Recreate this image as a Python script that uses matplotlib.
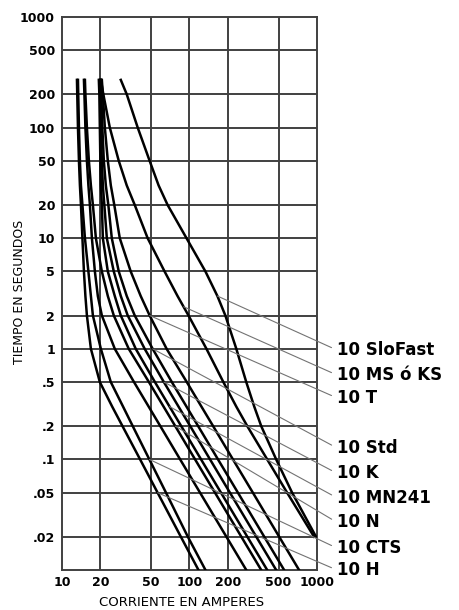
import numpy as np
import matplotlib
matplotlib.use('Agg')
import matplotlib.pyplot as plt

# time-current curves (amperes vs seconds), fastest first
secs = [270, 200, 100, 50, 30, 20, 10, 5, 3, 2, 1, 0.5, 0.3, 0.2, 0.1, 0.05, 0.02, 0.01]
amps_h = [13.10, 13.17, 13.34, 13.58, 13.82, 14.08, 14.46, 14.86, 15.26, 15.68,
	16.85, 19.81, 24.76, 29.81, 40.98, 56.23, 85.50, 117.6]
amps_cts = [13.34, 13.41, 13.58, 13.82, 14.08, 14.46, 15.13, 16.11, 16.85, 17.47,
	20.17, 24.15, 30.13, 35.87, 48.43, 65.42, 96.99, 133.4]
amps_extra = [14.86, 14.99, 15.26, 15.68, 16.11, 16.55, 17.16, 18.11, 19.10, 20.54,
	25.94, 36.72, 47.84, 59.03, 84.43, 121.0, 194.6, 278.8]
amps_n = [15.13, 15.26, 15.68, 16.25, 16.85, 17.47, 18.44, 20.54, 22.88, 25.48,
	33.37, 48.08, 62.64, 77.31, 110.6, 158.5, 254.9, 365.2]
amps_mn241 = [19.45, 19.63, 19.81, 19.99, 20.17, 20.54, 20.91, 22.88, 25.94, 28.91,
	37.86, 53.57, 69.77, 86.13, 123.2, 176.6, 283.9, 406.8]
amps_k = [19.81, 19.99, 20.17, 20.54, 20.91, 21.48, 22.47, 25.48, 28.91, 32.77,
	44.50, 62.98, 82.04, 101.3, 144.9, 207.6, 333.8, 478.4]
amps_std = [20.17, 20.35, 20.72, 21.29, 22.07, 23.09, 24.58, 27.88, 32.20, 37.19,
	51.40, 72.71, 94.76, 116.9, 167.3, 239.8, 385.5, 552.4]
amps_t = [20.54, 20.91, 21.68, 22.88, 24.15, 25.71, 28.39, 34.60, 41.43, 48.70,
	66.13, 95.27, 124.1, 153.2, 219.1, 314.1, 504.9, 723.5]
# the two slow curves stop at 0.02 s
secs_slow = [270, 200, 100, 50, 30, 20, 10, 5, 3, 2, 1, 0.5, 0.3, 0.2, 0.1, 0.05, 0.02]
amps_ms = [20.17, 21.10, 23.71, 27.88, 32.20, 37.19, 46.97, 63.80, 80.58, 98.22,
	135.8, 184.4, 232.9, 283.9, 406.8, 583.1, 947.6]
amps_slo = [28.91, 32.20, 39.25, 48.70, 57.25, 67.32, 94.76, 133.4, 165.5, 191.1,
	232.9, 278.8, 322.1, 365.2, 478.4, 638.0, 982.2]

curves = [(amps_h, secs), (amps_cts, secs), (amps_extra, secs), (amps_n, secs),
	(amps_mn241, secs), (amps_k, secs), (amps_std, secs), (amps_t, secs),
	(amps_ms, secs_slow), (amps_slo, secs_slow)]

# callouts: text, height of the label (seconds), point where the leader meets its curve
labels = ['10 SloFast', '10 MS ó KS', '10 T', '10 Std', '10 K',
	'10 MN241', '10 N', '10 CTS', '10 H']
label_secs = [0.975, 0.58, 0.36, 0.127, 0.075, 0.045, 0.027, 0.0158, 0.0100]
leader_amps = [165.5, 90, 48.7, 51.4, 63.0, 69.8, 77.3, 48.4, 56.2]
leader_secs = [3.0, 2.4, 2.0, 1.0, 0.5, 0.3, 0.2, 0.1, 0.05]

x_ticks = [10, 20, 50, 100, 200, 500, 1000]
x_ticklabels = ['10', '20', '50', '100', '200', '500', '1000']
y_ticks = [1000, 500, 200, 100, 50, 20, 10, 5, 2, 1, 0.5, 0.2, 0.1, 0.05, 0.02]
y_ticklabels = ['1000', '500', '200', '100', '50', '20', '10', '5', '2', '1',
	'.5', '.2', '.1', '.05', '.02']

gridc = '0.25'
fig = plt.figure(figsize=(4.6, 6.1), dpi=100)
ax = fig.add_axes([62 / 460, 1 - 570 / 610, 255 / 460, 553 / 610])
ax.set_xscale('log')
ax.set_yscale('log')
ax.set_xlim(10, 1000)
ax.set_ylim(0.01, 1000)

for v in x_ticks[1:-1]:
	ax.axvline(v, color=gridc, lw=1.4, zorder=1)
for v in y_ticks[1:]:
	ax.axhline(v, color=gridc, lw=1.4, zorder=1)
for s in ax.spines.values():
	s.set_color(gridc)
	s.set_linewidth(1.4)

ax.set_xticks(x_ticks)
ax.set_xticklabels(x_ticklabels)
ax.set_yticks(y_ticks)
ax.set_yticklabels(y_ticklabels)
ax.minorticks_off()
ax.tick_params(length=0, labelsize=9, pad=5)
ax.tick_params(axis='x', pad=4)
for lab in ax.get_xticklabels() + ax.get_yticklabels():
	lab.set_fontweight('bold')

for a, s in curves:
	ax.plot(a, s, color='black', lw=1.8, solid_joinstyle='round', zorder=3)

for lab, ls, la, lsec in zip(labels, label_secs, leader_amps, leader_secs):
	ax.annotate(lab, xy=(la, lsec), xytext=(1430, ls), textcoords='data',
		ha='left', va='center', fontsize=12, fontweight='bold',
		annotation_clip=False,
		arrowprops=dict(arrowstyle='-', color='0.45', lw=0.8,
			relpos=(0, 0.5), shrinkA=2, shrinkB=0))

fig.text(20 / 460, 1 - 292 / 610, 'TIEMPO EN SEGUNDOS', rotation=90,
	ha='center', va='center', fontsize=9)
fig.text(182 / 460, 1 - 603 / 610, 'CORRIENTE EN AMPERES',
	ha='center', va='center', fontsize=9.5)

fig.savefig('out.png', dpi=100)
